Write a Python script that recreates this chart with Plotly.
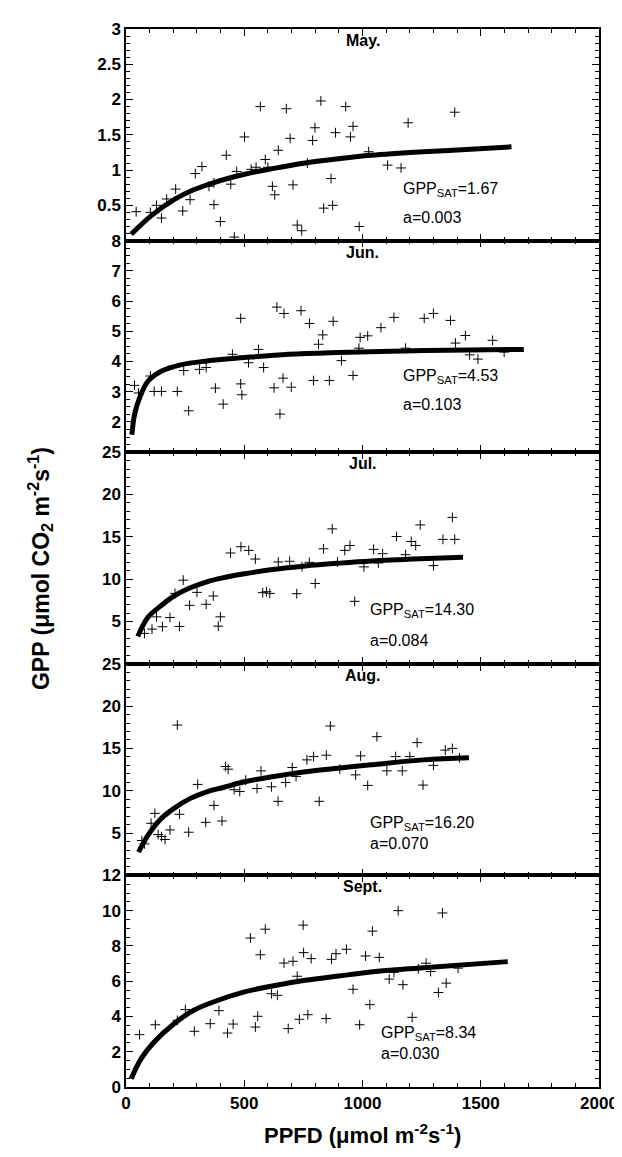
import plotly.graph_objects as go
from plotly.subplots import make_subplots

# ---- observed points (PPFD, GPP) per month ----
may_ppfd = [43, 103, 129, 150, 172, 210, 240, 271, 293, 321, 351, 372, 372, 399, 424, 443, 458, 468,
            501, 529, 550, 568, 589, 600, 619, 629, 644, 678, 694, 706, 724, 743, 767, 789, 799, 824,
            836, 867, 874, 886, 929, 949, 960, 986, 1026, 1106, 1163, 1193, 1390]
may_gpp = [0.41, 0.40, 0.50, 0.32, 0.59, 0.73, 0.42, 0.58, 0.95, 1.05, 0.77, 0.82, 0.51, 0.27, 1.21, 0.80, 0.05, 0.98,
           1.47, 1.01, 1.04, 1.90, 1.15, 1.04, 0.77, 0.65, 1.28, 1.87, 1.45, 0.79, 0.22, 0.14, 1.10, 1.42, 1.60, 1.98,
           0.46, 0.88, 0.50, 1.53, 1.90, 1.47, 1.62, 0.20, 1.26, 1.07, 1.03, 1.67, 1.82]

jun_ppfd = [36, 53, 103, 119, 150, 217, 265, 244, 311, 339, 378, 411, 450, 485, 490, 485, 518, 560, 582,
            626, 638, 651, 664, 668, 699, 740, 776, 793, 814, 832, 860, 876, 911, 960, 985, 990, 1022, 1078,
            1133, 1182, 1261, 1300, 1372, 1393, 1435, 1453, 1488, 1550, 1599]
jun_gpp = [3.21, 2.96, 3.52, 3.01, 3.01, 3.01, 2.37, 3.70, 3.74, 3.80, 3.12, 2.59, 4.24, 3.26, 2.90, 5.43, 3.96, 4.40, 3.80,
           3.13, 5.80, 2.26, 3.45, 5.59, 3.15, 5.68, 5.26, 3.37, 4.57, 4.88, 3.37, 5.33, 4.03, 3.54, 4.44, 4.80, 4.85, 5.12,
           5.46, 4.44, 5.43, 5.59, 5.36, 4.61, 4.86, 4.22, 4.08, 4.70, 4.31]

jul_ppfd = [78, 110, 129, 154, 186, 207, 226, 242, 269, 300, 339, 369, 390, 399, 442, 486, 519, 547, 578,
            594, 608, 644, 692, 722, 744, 775, 800, 835, 872, 894, 925, 947, 967, 1006, 1047, 1067, 1085,
            1144, 1182, 1206, 1225, 1244, 1300, 1340, 1380, 1390]
jul_gpp = [3.59, 4.10, 5.55, 4.38, 5.47, 8.32, 4.41, 9.88, 6.91, 8.44, 7.03, 8.01, 4.45, 5.55, 13.09, 13.83, 13.40, 12.38, 8.40,
           8.52, 8.32, 12.03, 12.11, 8.28, 11.48, 11.99, 9.49, 13.59, 15.94, 12.03, 13.40, 13.98, 7.38, 11.45, 13.52, 11.91, 13.01,
           15.04, 12.89, 14.45, 13.98, 16.41, 11.6, 14.7, 17.3, 14.7]

aug_ppfd = [67, 78, 106, 122, 136, 150, 165, 186, 217, 226, 265, 303, 337, 372, 406, 421, 432, 457, 481,
            506, 554, 571, 615, 643, 675, 703, 719, 765, 793, 817, 847, 864, 904, 971, 992, 1022, 1061,
            1103, 1140, 1168, 1200, 1231, 1256, 1300, 1350, 1380, 1410]
aug_gpp = [4.12, 3.73, 6.16, 7.33, 4.82, 4.59, 4.24, 5.37, 17.76, 7.22, 5.10, 10.75, 6.27, 8.27, 6.43, 12.86, 12.55, 10.12, 9.92,
           11.25, 10.27, 12.35, 10.47, 8.75, 10.98, 12.75, 11.69, 13.65, 14.04, 8.75, 14.20, 17.65, 12.55, 11.88, 14.12, 10.63, 16.39,
           12.35, 14.04, 12.35, 14.04, 15.69, 10.67, 13.0, 14.8, 15.0, 13.9]

sep_ppfd = [57, 124, 217, 251, 289, 356, 393, 429, 453, 526, 547, 557, 568, 589, 615, 640, 668, 686, 706,
            724, 733, 749, 751, 769, 783, 846, 869, 888, 932, 960, 988, 1013, 1031, 1042, 1071, 1113, 1133,
            1151, 1171, 1210, 1236, 1269, 1288, 1321, 1338, 1354, 1404]
sep_gpp = [2.97, 3.53, 3.78, 4.39, 3.16, 3.59, 4.33, 3.06, 3.57, 8.45, 3.40, 4.01, 7.50, 8.95, 5.29, 5.20, 7.03, 3.31, 7.13,
           6.28, 3.84, 9.18, 7.62, 4.10, 7.28, 3.88, 7.24, 7.56, 7.81, 5.54, 3.53, 7.43, 4.67, 8.84, 7.35, 6.12, 6.50,
           10.0, 5.80, 3.95, 6.70, 7.02, 6.55, 5.36, 9.87, 5.89, 6.74]

# ---- fitted curves ----
may_fit_x = [22, 106, 203, 286, 369, 501, 619, 758, 897, 1036, 1258, 1438, 1630]
may_fit_y = [0.09, 0.35, 0.58, 0.72, 0.82, 0.94, 1.02, 1.10, 1.16, 1.21, 1.26, 1.29, 1.33]
jun_fit_x = [25, 36, 57, 92, 147, 231, 342, 501, 689, 897, 1175, 1450, 1682]
jun_fit_y = [1.58, 2.24, 2.79, 3.34, 3.67, 3.89, 4.02, 4.13, 4.24, 4.30, 4.35, 4.38, 4.40]
jul_fit_x = [50, 92, 147, 203, 272, 342, 411, 501, 619, 758, 897, 1036, 1244, 1425]
jul_fit_y = [3.24, 5.47, 6.84, 8.01, 8.98, 9.69, 10.16, 10.63, 11.13, 11.56, 11.88, 12.15, 12.42, 12.6]
aug_fit_x = [53, 92, 147, 203, 272, 342, 411, 501, 619, 758, 897, 1036, 1258, 1450]
aug_fit_y = [2.75, 4.71, 6.67, 7.92, 9.10, 9.88, 10.39, 11.06, 11.65, 12.24, 12.67, 13.06, 13.65, 13.9]
sep_fit_x = [22, 64, 119, 203, 286, 369, 501, 619, 758, 897, 1036, 1244, 1614]
sep_fit_y = [0.47, 1.61, 2.55, 3.59, 4.35, 4.82, 5.39, 5.73, 6.05, 6.29, 6.52, 6.75, 7.11]

months = ['May.', 'Jun.', 'Jul.', 'Aug.', 'Sept.']
gpp_sat = ['1.67', '4.53', '14.30', '16.20', '8.34']
alpha = ['0.003', '0.103', '0.084', '0.070', '0.030']

points = [(may_ppfd, may_gpp), (jun_ppfd, jun_gpp), (jul_ppfd, jul_gpp), (aug_ppfd, aug_gpp), (sep_ppfd, sep_gpp)]
fits = [(may_fit_x, may_fit_y), (jun_fit_x, jun_fit_y), (jul_fit_x, jul_fit_y), (aug_fit_x, aug_fit_y), (sep_fit_x, sep_fit_y)]

y_ranges = [[0, 3], [1, 8], [0, 25], [0, 25], [0, 12]]
y_ticks = [[0.5, 1, 1.5, 2, 2.5, 3], [2, 3, 4, 5, 6, 7, 8], [5, 10, 15, 20, 25], [5, 10, 15, 20, 25],
           [0, 2, 4, 6, 8, 10, 12]]
y_minor = [0.1, 0.25, 1, 1, 0.5]
# label positions (PPFD, GPP) for GPP_SAT and a
lab_pos = [(1162, 0.73, 0.33), (1161, 3.50, 2.57), (1022, 6.25, 2.73), (1025, 6.08, 3.73), (1071, 3.02, 1.89)]

FONT = 'Liberation Sans, Arial, sans-serif'

fig = make_subplots(rows=5, cols=1, shared_xaxes=True, vertical_spacing=0)

for i in range(5):
    r = i + 1
    fig.add_trace(go.Scatter(
        x=points[i][0], y=points[i][1], mode='markers',
        marker=dict(symbol='cross-thin', size=7, line=dict(width=1, color='black'), color='black'),
        showlegend=False, cliponaxis=True), row=r, col=1)
    fig.add_trace(go.Scatter(
        x=fits[i][0], y=fits[i][1], mode='lines', line=dict(color='black', width=5, shape='spline'),
        showlegend=False), row=r, col=1)

    fig.update_yaxes(range=y_ranges[i], tickmode='array', tickvals=y_ticks[i],
                     minor=dict(dtick=y_minor[i], tick0=0, ticks='inside', ticklen=4, tickcolor='black'),
                     row=r, col=1)

    yref = 'y' if r == 1 else 'y%d' % r
    xref = 'x' if r == 1 else 'x%d' % r
    fig.add_annotation(x=1000, y=0.995, xref=xref, yref=yref + ' domain', text=months[i],
                       showarrow=False, xanchor='center', yanchor='top',
                       font=dict(family=FONT, size=16, color='black', weight='bold'))
    px_, y1, y2 = lab_pos[i]
    fig.add_annotation(x=px_, y=y1, xref=xref, yref=yref,
                       text='GPP<sub>SAT</sub>=' + gpp_sat[i], showarrow=False, xanchor='left',
                       font=dict(family=FONT, size=16, color='black'))
    fig.add_annotation(x=px_, y=y2, xref=xref, yref=yref, text='a=' + alpha[i], showarrow=False,
                       xanchor='left', font=dict(family=FONT, size=16, color='black'))

fig.update_xaxes(range=[0, 2000], dtick=500, tick0=0, ticks='inside', ticklen=7, tickwidth=1,
                 showline=True, linecolor='black', linewidth=1.5, mirror='ticks', showgrid=False,
                 zeroline=False, tickcolor='black',
                 minor=dict(dtick=100, ticks='inside', ticklen=4, tickcolor='black'),
                 tickfont=dict(family=FONT, size=17, color='black', weight='bold'))
fig.update_yaxes(ticks='inside', ticklen=7, tickwidth=1, showline=True, linecolor='black', linewidth=1.5,
                 mirror='ticks', showgrid=False, zeroline=False, tickcolor='black',
                 tickfont=dict(family=FONT, size=17, color='black', weight='bold'))

fig.add_annotation(x=-0.183, y=0.49, xref='paper', yref='paper', textangle=-90,
                   text='GPP (μmol CO<sub>2</sub> m<sup>-2</sup>s<sup>-1</sup>)', showarrow=False,
                   xanchor='center', yanchor='middle',
                   font=dict(family=FONT, size=23, color='black', weight='bold'))
fig.add_annotation(x=0.5, y=-0.044, xref='paper', yref='paper',
                   text='PPFD (μmol m<sup>-2</sup>s<sup>-1</sup>)', showarrow=False,
                   xanchor='center', yanchor='middle',
                   font=dict(family=FONT, size=22, color='black', weight='bold'))

fig.update_layout(width=622, height=1157, margin=dict(l=118, r=24, t=18, b=78),
                  plot_bgcolor='white', paper_bgcolor='white', showlegend=False)

fig.write_html('out.html')
